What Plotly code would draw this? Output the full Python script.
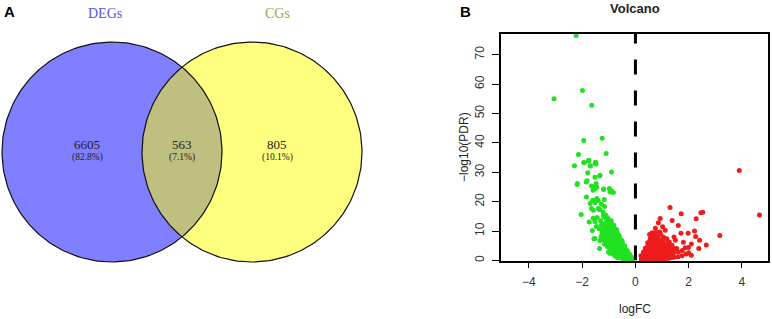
import numpy as np
import plotly.graph_objects as go

W, H = 772, 319

# ---------------- Venn data ----------------
set_names = ["DEGs", "CGs"]
region_counts = [6605, 563, 805]          # DEGs only, both, CGs only
region_pct = ["(82.8%)", "(7.1%)", "(10.1%)"]

# ---------------- Volcano data ----------------
green_x = [-2.23, -1.99, -3.06, -1.64, -1.94, -1.25, -2.14, -1.10, -1.94, -1.75, -1.50, -1.48,
           -2.29, -1.69, -1.79, -0.90, -1.52, -1.34, -1.82, -2.19, -1.65, -1.56, -1.45, -1.59,
           -1.52, -1.19, -0.98, -0.90, -0.83, -1.84, -1.45, -1.17, -1.93, -1.77, -1.70, -1.51,
           -1.33, -2.18, -1.85, -1.48, -1.20, -0.95, -1.60, -1.35,
           -2.04, -1.70, -1.52, -1.40, -1.28, -1.16, -1.65, -1.40, -1.22, -1.59, -1.44, -1.74,
           -1.52, -1.56, -1.35, -1.01, -1.58, -1.35, -1.20, -1.08, -1.52, -0.95, -1.62, -1.47,
           -1.31, -1.28, -1.36, -1.25, -1.29, -1.33,
           -1.18, -1.21, -1.17, -1.23, -1.19, -1.22, -1.16,
           -1.12, -1.08, -1.11, -1.09, -1.13, -1.07, -1.10, -1.12, -1.06,
           -1.02, -0.99, -1.03, -0.98, -1.01, -0.97, -1.04, -0.99, -1.02, -0.96,
           -0.91, -0.88, -0.92, -0.89, -0.93, -0.87, -0.90, -0.91, -0.88, -0.92, -0.86,
           -0.81, -0.79, -0.82, -0.78, -0.80, -0.83, -0.77, -0.81, -0.79, -0.82, -0.78,
           -0.71, -0.69, -0.72, -0.68, -0.70, -0.73, -0.67, -0.71, -0.69, -0.72, -0.68,
           -0.61, -0.59, -0.62, -0.58, -0.60, -0.63, -0.57, -0.61, -0.59, -0.62,
           -0.51, -0.49, -0.52, -0.48, -0.50, -0.53, -0.47, -0.51, -0.49,
           -0.41, -0.39, -0.42, -0.38, -0.40, -0.43, -0.37, -0.41,
           -0.31, -0.29, -0.32, -0.28, -0.30, -0.27,
           -0.21, -0.19, -0.22, -0.18, -0.13, -0.11, -0.16, -0.24, -0.35, -0.45]
green_y = [76.5, 57.8, 55.0, 52.8, 40.8, 41.6, 36.0, 36.4, 33.3, 34.1, 33.4, 32.8,
           32.2, 32.1, 29.8, 30.1, 28.3, 28.7, 27.1, 25.8, 25.3, 24.8, 25.0, 23.9,
           24.4, 24.3, 24.5, 23.7, 23.1, 21.6, 21.1, 20.7, 33.2, 33.8, 32.2, 33.0,
           29.0, 26.2, 26.7, 26.2, 24.1, 23.3, 20.5, 17.3,
           15.6, 19.4, 19.7, 20.4, 19.1, 18.4, 17.7, 17.7, 16.6, 14.4, 14.6, 13.1,
           13.3, 7.4, 4.1, 2.9, 17.1, 17.3, 15.4, 14.8, 7.5, 2.4, 10.2, 11.6,
           13.5, 12.0, 10.8, 9.5, 8.2, 6.8,
           14.8, 12.5, 11.2, 10.0, 8.8, 7.0, 5.5,
           15.5, 13.8, 12.6, 11.5, 10.2, 9.0, 7.8, 6.4, 4.8,
           14.2, 13.0, 11.9, 10.7, 9.6, 8.4, 7.3, 6.1, 5.0, 3.8,
           13.5, 12.3, 11.2, 10.1, 9.0, 8.0, 6.9, 5.9, 4.8, 3.6, 2.5,
           12.0, 10.9, 9.8, 8.7, 7.7, 6.7, 5.7, 4.6, 3.5, 2.5, 1.6,
           10.5, 9.5, 8.5, 7.5, 6.5, 5.5, 4.5, 3.6, 2.7, 1.8, 1.0,
           8.5, 7.6, 6.7, 5.8, 4.9, 4.0, 3.2, 2.4, 1.6, 0.9,
           6.8, 6.0, 5.2, 4.4, 3.6, 2.8, 2.0, 1.3, 0.7,
           5.0, 4.2, 3.5, 2.8, 2.1, 1.4, 0.8, 0.3,
           3.4, 2.7, 2.0, 1.4, 0.8, 0.3,
           2.0, 1.4, 0.9, 0.4, 1.0, 0.5, 0.3, 0.6, 0.4, 0.3]

red_x = [3.90, 4.66, 1.30, 1.72, 2.46, 2.53, 2.28, 1.38, 0.93, 0.86, 1.61, 1.12, 2.22, 1.98,
         1.71, 3.17, 2.26, 2.41, 2.66, 2.38, 1.99, 1.87, 1.55, 1.37, 1.50, 1.18, 0.91, 1.02,
         0.75, 1.45, 1.80, 2.10, 2.00, 2.10,
         0.22, 0.24, 0.21,
         0.30, 0.31, 0.29, 0.32, 0.30,
         0.38, 0.37, 0.39, 0.38, 0.40, 0.37,
         0.46, 0.45, 0.47, 0.46, 0.48, 0.45, 0.47, 0.46,
         0.54, 0.53, 0.55, 0.54, 0.56, 0.53, 0.55, 0.54, 0.56, 0.53,
         0.62, 0.61, 0.63, 0.62, 0.64, 0.61, 0.63, 0.62, 0.64, 0.61, 0.63,
         0.70, 0.69, 0.71, 0.70, 0.72, 0.69, 0.71, 0.70, 0.72, 0.69,
         0.78, 0.77, 0.79, 0.78, 0.80, 0.77, 0.79, 0.78, 0.80, 0.77,
         0.86, 0.85, 0.87, 0.86, 0.88, 0.85, 0.87, 0.86,
         0.95, 0.94, 0.96, 0.95, 0.97, 0.94, 0.96, 0.95,
         1.05, 1.04, 1.06, 1.05, 1.07, 1.04, 1.06,
         1.15, 1.14, 1.16, 1.15, 1.17, 1.14,
         1.25, 1.24, 1.26, 1.25, 1.27,
         1.35, 1.34, 1.36, 1.35,
         1.45, 1.44, 1.46,
         1.60, 1.61, 1.75, 1.76, 1.90]
red_y = [30.6, 15.5, 18.0, 15.9, 16.2, 16.4, 14.2, 13.6, 14.3, 12.8, 11.9, 10.3, 10.0, 9.3,
         9.3, 8.5, 8.2, 6.9, 5.3, 4.1, 4.4, 4.3, 4.1, 5.2, 6.9, 7.4, 9.7, 11.5,
         11.0, 8.0, 6.2, 5.6, 2.6, 1.8,
         0.4, 1.0, 1.6,
         0.3, 0.9, 1.5, 2.2, 2.9,
         0.4, 1.1, 1.8, 2.6, 3.4, 4.2,
         0.3, 1.0, 1.8, 2.6, 3.4, 4.3, 5.2, 6.0,
         0.5, 1.3, 2.1, 3.0, 3.9, 4.8, 5.7, 6.6, 7.5, 8.8,
         0.4, 1.2, 2.0, 2.9, 3.8, 4.7, 5.6, 6.5, 7.4, 8.3, 9.4,
         0.5, 1.3, 2.2, 3.1, 4.0, 4.9, 5.8, 6.8, 7.8, 9.0,
         0.4, 1.2, 2.1, 3.0, 3.9, 4.8, 5.8, 6.8, 8.2, 9.6,
         0.6, 1.5, 2.4, 3.3, 4.3, 5.3, 6.4, 7.6,
         0.5, 1.4, 2.3, 3.3, 4.3, 5.5, 6.8, 8.9,
         0.6, 1.5, 2.5, 3.6, 4.8, 6.2, 7.9,
         0.7, 1.7, 2.8, 4.0, 5.6, 7.2,
         0.8, 1.9, 3.2, 4.6, 6.3,
         1.0, 2.2, 3.6, 5.2,
         1.1, 2.6, 4.1,
         1.3, 2.9, 1.6, 3.4, 2.2]

x_ticks = [-4, -2, 0, 2, 4]
y_ticks = [0, 10, 20, 30, 40, 50, 60, 70]

# ---------------- layout geometry ----------------
VENN_W = 0.6 * W
circ_r = 110
circ_centers = [(112, 152), (252, 152)]
circ_fill = ["rgba(0,0,255,0.5)", "rgba(255,255,0,0.5)"]
label_cols = ["#5555E8", "#A5A540"]

fig = go.Figure()

t = np.linspace(0, 2 * np.pi, 241)
for (cx, cy), fc in zip(circ_centers, circ_fill):
    fig.add_trace(go.Scatter(x=cx + circ_r * np.cos(t), y=cy + circ_r * np.sin(t),
                             mode="lines", fill="toself", fillcolor=fc,
                             line=dict(color="rgba(0,0,0,0)", width=0),
                             hoverinfo="skip", showlegend=False, xaxis="x", yaxis="y"))
for (cx, cy) in circ_centers:
    fig.add_trace(go.Scatter(x=cx + circ_r * np.cos(t), y=cy + circ_r * np.sin(t),
                             mode="lines", line=dict(color="#111", width=1.2),
                             hoverinfo="skip", showlegend=False, xaxis="x", yaxis="y"))

serif = "Liberation Serif, DejaVu Serif, serif"
C = dict(xanchor="center", yanchor="middle", showarrow=False)
ann = []
for name, col, xp in zip(set_names, label_cols, [105, 277]):
    ann.append(dict(x=xp, y=13, xref="x", yref="y", text=name,
                    font=dict(family=serif, size=14, color=col), **C))
for cnt, pct, xp in zip(region_counts, region_pct, [87, 182, 277]):
    ann.append(dict(x=xp, y=144, xref="x", yref="y", text=str(cnt),
                    font=dict(family=serif, size=13, color="#222"), **C))
    ann.append(dict(x=xp, y=157, xref="x", yref="y", text=pct,
                    font=dict(family=serif, size=9.5, color="#222"), **C))

# Volcano
fig.add_trace(go.Scatter(x=green_x, y=green_y, mode="markers",
                         marker=dict(color="#22E022", size=5, line=dict(width=0)),
                         showlegend=False, xaxis="x2", yaxis="y2", cliponaxis=False))
fig.add_trace(go.Scatter(x=red_x, y=red_y, mode="markers",
                         marker=dict(color="#EE1C1C", size=5, line=dict(width=0)),
                         showlegend=False, xaxis="x2", yaxis="y2", cliponaxis=False))

sans = "Liberation Sans, Arial, sans-serif"
x0p, x1p, y0p, y1p = 501, 768, 34, 260.5
fig.add_shape(type="line", xref="x2", yref="y2", x0=0, x1=0, y0=0, y1=77,
              line=dict(color="black", width=3, dash="15px,16px"))

ann += [
    dict(x=9 / W, y=1 - 12 / H, xref="paper", yref="paper", text="<b>A</b>",
         font=dict(family=sans, size=15, color="black"), **C),
    dict(x=465 / W, y=1 - 12 / H, xref="paper", yref="paper", text="<b>B</b>",
         font=dict(family=sans, size=15, color="black"), **C),
    dict(x=635 / W, y=1 - 8 / H, xref="paper", yref="paper", text="<b>Volcano</b>",
         font=dict(family=sans, size=13, color="#222"), **C),
    dict(x=635 / W, y=1 - 309 / H, xref="paper", yref="paper", text="logFC",
         font=dict(family=sans, size=12, color="#222"), **C),
    dict(x=464 / W, y=1 - 147 / H, xref="paper", yref="paper", text="\u2212log10(PDR)",
         textangle=-90, font=dict(family=sans, size=12, color="#222"), **C),
]

fig.update_layout(
    width=W, height=H, margin=dict(l=0, r=0, t=0, b=0, autoexpand=False),
    paper_bgcolor="white", plot_bgcolor="rgba(0,0,0,0)",
    annotations=ann,
    xaxis=dict(domain=[0, 0.6], range=[0, VENN_W], visible=False, fixedrange=True),
    yaxis=dict(domain=[0, 1], range=[H, 0], visible=False, fixedrange=True),
    xaxis2=dict(domain=[x0p / W, x1p / W], range=[-5.05, 4.98], anchor="y2",
                tickvals=x_ticks, ticktext=[("\u2212" if v < 0 else "") + str(abs(v)) for v in x_ticks],
                ticks="outside", ticklen=6, tickwidth=1.2, tickcolor="black",
                showline=True, mirror=True, linecolor="black", linewidth=1.5,
                showgrid=False, zeroline=False,
                tickfont=dict(family=sans, size=12, color="#333"), ticklabelstandoff=3),
    yaxis2=dict(domain=[1 - y1p / H, 1 - y0p / H], range=[0, 77], anchor="x2",
                tickvals=y_ticks, tickangle=-90,
                ticks="outside", ticklen=7, tickwidth=1.2, tickcolor="black",
                showline=True, mirror=True, linecolor="black", linewidth=1.5,
                showgrid=False, zeroline=False,
                tickfont=dict(family=sans, size=12, color="#333"), ticklabelstandoff=3),
)

fig.write_html("out.html", config={"displayModeBar": False},
               post_script="document.body.style.margin='0';")
